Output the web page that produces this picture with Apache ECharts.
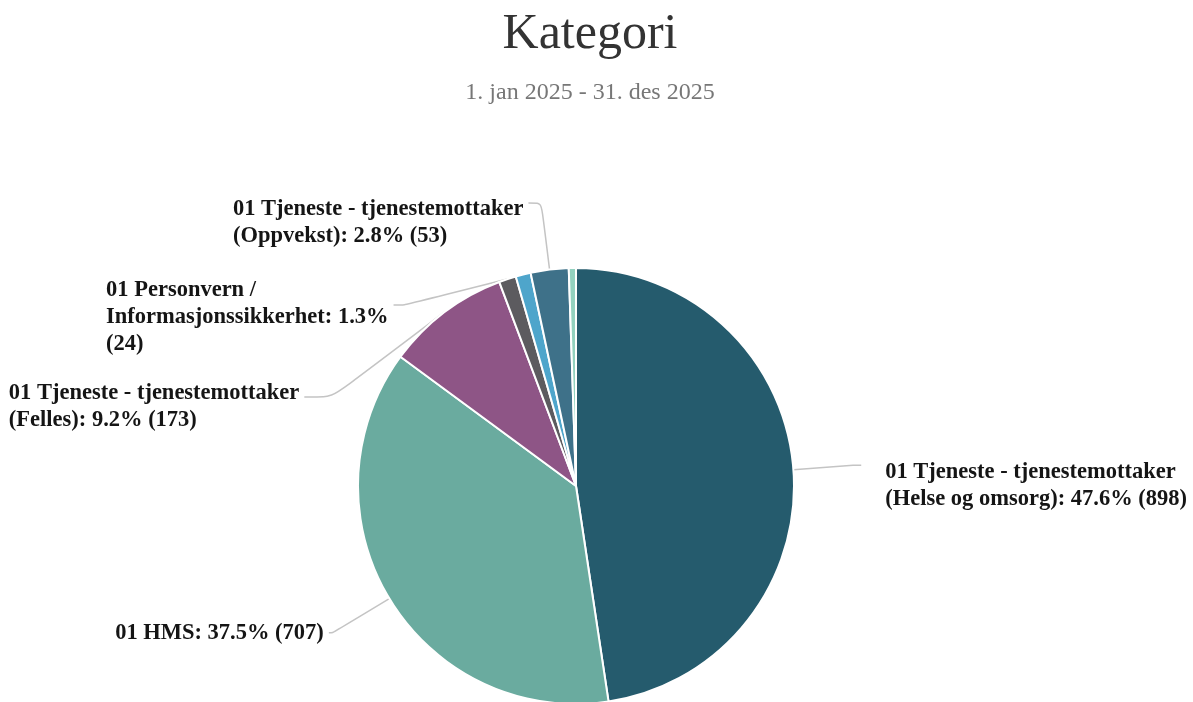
<!DOCTYPE html>
<html>
<head>
<meta charset="utf-8">
<script src="https://cdn.jsdelivr.net/npm/echarts@6/dist/echarts.min.js"></script>
<style>
html, body { margin: 0; padding: 0; background: #ffffff; }
#chart { width: 1193px; height: 702px; }
</style>
</head>
<body>
<div id="chart"></div>
<script>
// ---- data ----
const chartTitle = 'Kategori';
const chartSubtitle = '1. jan 2025 - 31. des 2025';
const categories = [
  '01 Tjeneste - tjenestemottaker (Helse og omsorg)',
  '01 HMS',
  '01 Tjeneste - tjenestemottaker (Felles)',
  '01 Personvern / Informasjonssikkerhet',
  '01 Tjeneste - tjenestemottaker (Annet)',
  '01 Tjeneste - tjenestemottaker (Oppvekst)',
  '01 Annet'
];
const values = [898, 707, 173, 24, 21, 53, 10];
const labelled = [true, true, true, true, false, true, false];

// ---- style ----
const colors = ['#255b6d', '#6aab9f', '#8e5586', '#5c5b5f', '#4ea5cb', '#3e7189', '#93d2bf'];
const labelStyleBySlice = [
  { len: 60, len2: 8,  padTop: 42, gap: 24 },
  { len: 66, len2: 4,  padTop: 0,  gap: 5 },
  { len: 30, len2: 41, padTop: 20, gap: 5 },
  { len: 10, len2: 11, padTop: 25, gap: 5 },
  { len: 0,  len2: 0,  padTop: 0,  gap: 5 },
  { len: 67, len2: 13, padTop: 40, gap: 5 },
  { len: 0,  len2: 0,  padTop: 0,  gap: 5 }
];

const FONT_FAMILY = '"Liberation Serif", "Times New Roman", serif';
const LABEL_SIZE = 22.5;
const measureCtx = document.createElement('canvas').getContext('2d');
function wrapText(text, maxWidth) {
  measureCtx.font = 'bold ' + LABEL_SIZE + 'px "Liberation Serif"';
  const words = text.split(' ');
  const lines = [];
  let cur = '';
  for (const w of words) {
    const t = cur ? cur + ' ' + w : w;
    if (cur && measureCtx.measureText(t).width > maxWidth) {
      lines.push(cur);
      cur = w;
    } else {
      cur = t;
    }
  }
  if (cur) lines.push(cur);
  return lines;
}

const total = values.reduce((a, b) => a + b, 0);

const chart = echarts.init(document.getElementById('chart'), null, { renderer: 'canvas' });
chart.setOption({
  animation: false,
  backgroundColor: '#ffffff',
  title: {
    text: chartTitle,
    subtext: chartSubtitle,
    left: 590,
    textAlign: 'center',
    top: 10,
    padding: 0,
    itemGap: 21,
    textStyle: { fontFamily: FONT_FAMILY, fontSize: 50, fontWeight: 'normal', color: '#333333' },
    subtextStyle: { fontFamily: FONT_FAMILY, fontSize: 24, color: '#777777' }
  },
  series: [{
    type: 'pie',
    left: -40,
    right: -40,
    top: 0,
    bottom: 0,
    center: [616, 486],
    radius: 218,
    startAngle: 90,
    clockwise: true,
    avoidLabelOverlap: true,
    itemStyle: { borderColor: '#ffffff', borderWidth: 2 },
    emphasis: { disabled: true },
    label: {
      show: true,
      position: 'outside',
      fontFamily: FONT_FAMILY,
      fontSize: LABEL_SIZE,
      fontWeight: 'bold',
      lineHeight: 27,
      color: '#151515',
      formatter: function (p) {
        const pct = (p.value / total * 100).toFixed(1);
        const lines = wrapText(p.name + ': ' + pct + '% (' + p.value + ')', 305);
        return lines.map(l => '{a|' + l + '}').join('\n');
      },
      rich: {
        a: { fontFamily: FONT_FAMILY, fontSize: LABEL_SIZE, fontWeight: 'bold', lineHeight: 27, color: '#151515', align: 'left' }
      }
    },
    labelLine: {
      show: true,
      smooth: 0.25,
      lineStyle: { color: '#c4c4c4', width: 1.5 }
    },
    data: categories.map((name, i) => ({
      name: name,
      value: values[i],
      itemStyle: { color: colors[i] },
      label: {
        show: labelled[i],
        padding: [labelStyleBySlice[i].padTop, 0, 0, 0],
        distanceToLabelLine: labelStyleBySlice[i].gap
      },
      labelLine: {
        show: labelled[i],
        length: labelStyleBySlice[i].len,
        length2: labelStyleBySlice[i].len2
      }
    }))
  }]
});
</script>
</body>
</html>
